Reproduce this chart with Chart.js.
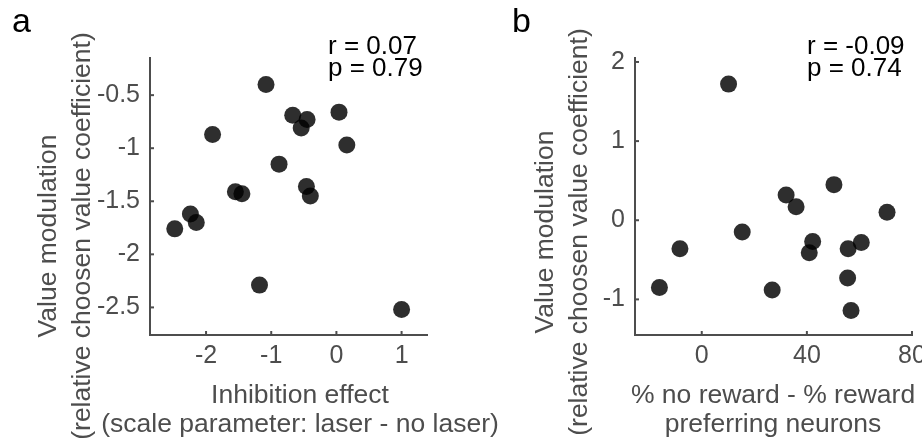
<!DOCTYPE html>
<html>
<head>
<meta charset="utf-8">
<script src="https://cdn.jsdelivr.net/npm/chart.js@4.4.1/dist/chart.umd.min.js"></script>
<style>
  html, body { margin: 0; padding: 0; background: #fff; }
  #wrap { position: relative; width: 922px; height: 443px; overflow: hidden; }
  canvas { position: absolute; top: 0; left: 0; }
</style>
</head>
<body>
<div id="wrap">
  <canvas id="chartA" width="922" height="443"></canvas>
  <canvas id="chartB" width="922" height="443"></canvas>
</div>
<script>
// panel a: inhibition effect vs value modulation
var inhibitionEffect = [-1.08, -1.90, -0.67, -0.45, -0.54, 0.04, 0.16, -0.88, -1.55, -1.45, -0.46, -0.40, -2.24, -2.15, -2.48, -1.18, 1.00];
var valueModA = [-0.40, -0.87, -0.69, -0.73, -0.81, -0.66, -0.97, -1.15, -1.41, -1.43, -1.36, -1.45, -1.62, -1.70, -1.76, -2.29, -2.52];
var xTicksA = [-2, -1, 0, 1];
var yTicksA = [-2.5, -2, -1.5, -1, -0.5];

// panel b: % no reward - % reward preferring neurons vs value modulation
var rewardPref = [10.2, -16.1, -8.3, 15.4, 26.8, 32.1, 35.9, 50.3, 42.2, 40.9, 55.7, 60.7, 55.5, 56.8, 70.5];
var valueModB = [1.72, -0.85, -0.36, -0.15, -0.88, 0.32, 0.17, 0.45, -0.27, -0.41, -0.36, -0.28, -0.73, -1.14, 0.10];
var xTicksB = [0, 40, 80];
var yTicksB = [-1, 0, 1, 2];

var yTitle = ['Value modulation', '(relative choosen value coefficient)'];
var xTitleA = ['Inhibition effect', '(scale parameter: laser - no laser)'];
var xTitleB = ['% no reward - % reward', 'preferring neurons'];
var statsA = ['r = 0.07', 'p = 0.79'];
var statsB = ['r = -0.09', 'p = 0.74'];

var axisColor = '#4d4d4d';
var fontFamily = '"Liberation Sans", Arial, Helvetica, sans-serif';

// inward tick marks, panel letter, stats and axis titles
var panelText = {
  id: 'panelText',
  afterDraw: function(chart, args, o) {
    var ctx = chart.ctx;
    var area = chart.chartArea;
    var xs = chart.scales.x, ys = chart.scales.y;
    ctx.save();
    ctx.strokeStyle = axisColor;
    ctx.lineWidth = 2;
    xs.ticks.forEach(function(t) {
      var px = xs.getPixelForValue(t.value);
      ctx.beginPath();
      ctx.moveTo(px, area.bottom);
      ctx.lineTo(px, area.bottom - 4);
      ctx.stroke();
    });
    ys.ticks.forEach(function(t) {
      var py = ys.getPixelForValue(t.value);
      ctx.beginPath();
      ctx.moveTo(area.left, py);
      ctx.lineTo(area.left + 4, py);
      ctx.stroke();
    });

    ctx.fillStyle = '#000';
    ctx.textBaseline = 'alphabetic';
    ctx.textAlign = 'left';
    ctx.font = '34px ' + fontFamily;
    ctx.fillText(o.letter, o.letterX, 32);

    ctx.font = '26px ' + fontFamily;
    o.stats.forEach(function(s, i) {
      ctx.fillText(s, o.statsX, 54 + i * 22);
    });

    ctx.fillStyle = axisColor;
    ctx.textAlign = 'center';
    ctx.font = '26.5px ' + fontFamily;
    o.xTitle.forEach(function(s, i) {
      ctx.fillText(s, o.xTitleX, 403 + i * 29);
    });
    o.yTitle.forEach(function(s, i) {
      ctx.save();
      ctx.translate(o.yTitleX + i * 34, o.yTitleY);
      ctx.rotate(-Math.PI / 2);
      ctx.fillText(s, 0, 0);
      ctx.restore();
    });
    ctx.restore();
  }
};

function makePanel(id, xs, ys, xMin, xMax, yMin, yMax, xTicks, yTicks, yAxisWidth, padRight, text) {
  var pts = xs.map(function(x, i) { return { x: x, y: ys[i] }; });
  return new Chart(document.getElementById(id), {
    type: 'scatter',
    data: {
      datasets: [{
        data: pts,
        backgroundColor: 'rgba(0, 0, 0, 0.82)',
        borderWidth: 0,
        pointRadius: 8.5,
        pointHoverRadius: 8.5
      }]
    },
    options: {
      responsive: false,
      animation: false,
      devicePixelRatio: 1,
      events: [],
      layout: { padding: { left: 0, top: 58, right: padRight, bottom: 0 } },
      plugins: {
        legend: { display: false },
        tooltip: { enabled: false },
        panelText: text
      },
      scales: {
        x: {
          type: 'linear',
          min: xMin, max: xMax,
          grid: { display: false, drawTicks: false },
          border: { display: true, color: axisColor, width: 2 },
          ticks: {
            color: axisColor, padding: 6, maxRotation: 0, autoSkip: false,
            font: { family: fontFamily, size: 25 },
            callback: function(v) { return String(v); }
          },
          afterBuildTicks: function(s) { s.ticks = xTicks.map(function(v) { return { value: v }; }); },
          afterFit: function(s) { s.height = 108; s.paddingLeft = 0; s.paddingRight = 0; }
        },
        y: {
          type: 'linear',
          min: yMin, max: yMax,
          grid: { display: false, drawTicks: false },
          border: { display: true, color: axisColor, width: 2 },
          ticks: {
            color: axisColor, padding: 10, autoSkip: false,
            font: { family: fontFamily, size: 25 },
            callback: function(v) { return String(v); }
          },
          afterBuildTicks: function(s) { s.ticks = yTicks.map(function(v) { return { value: v }; }); },
          afterFit: function(s) { s.width = yAxisWidth; s.paddingTop = 0; s.paddingBottom = 0; }
        }
      }
    },
    plugins: [panelText]
  });
}

makePanel('chartA', inhibitionEffect, valueModA, -2.86, 1.39, -2.76, -0.15, xTicksA, yTicksA, 150, 495, {
  letter: 'a', letterX: 12, stats: statsA, statsX: 328,
  xTitle: xTitleA, xTitleX: 300, yTitle: yTitle, yTitleX: 56, yTitleY: 236
});
makePanel('chartB', rewardPref, valueModB, -25.4, 80, -1.45, 2.05, xTicksB, yTicksB, 635, 10, {
  letter: 'b', letterX: 512, stats: statsB, statsX: 807,
  xTitle: xTitleB, xTitleX: 773, yTitle: yTitle, yTitleX: 553, yTitleY: 232
});
</script>
</body>
</html>
